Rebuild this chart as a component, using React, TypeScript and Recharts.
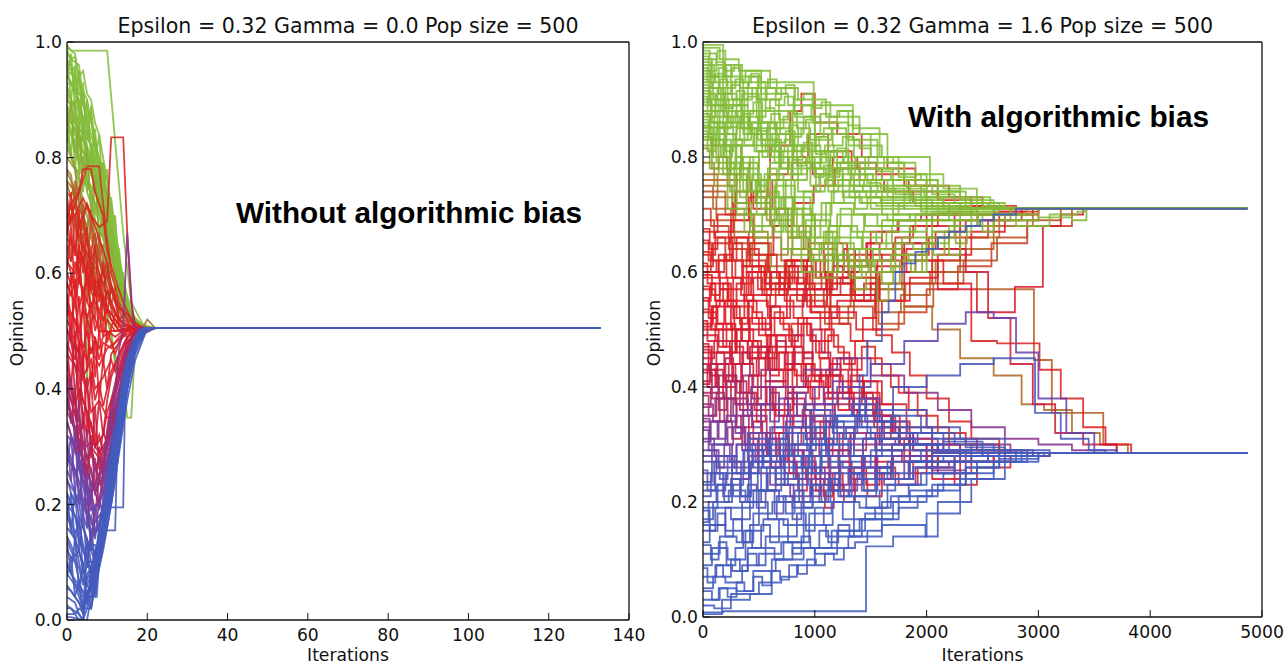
import React from 'react'
import { LineChart, Line, XAxis, YAxis } from 'recharts'

// opinion trajectories, flat [iteration, opinion, iteration, opinion, ...]
const leftEndIter = 133
const rightEndIter = 4870

const leftXTicks = [0, 20, 40, 60, 80, 100, 120, 140]
const rightXTicks = [0, 1000, 2000, 3000, 4000, 5000]
const yTicks = [0, 0.2, 0.4, 0.6, 0.8, 1.0]

const leftGreenRuns: number[][] = [
  [0, 0.995, 1, 0.985, 10, 0.985, 14, 0.67, 16, 0.55, 19, 0.51, 22, 0.505],
  [0, 0.99, 2, 0.98, 3, 0.93, 5, 0.9, 6, 0.86, 8, 0.79, 10, 0.72, 12, 0.62, 14, 0.55, 17, 0.515, 20, 0.505],
  [0, 0.985, 1, 0.97, 2, 0.975, 3, 0.94, 4, 0.95, 5, 0.91, 6, 0.9, 7, 0.86, 8, 0.84, 9, 0.8, 10, 0.76, 11, 0.72, 12, 0.68, 13, 0.63, 14, 0.59, 15, 0.55, 16, 0.53, 18, 0.515, 21, 0.505],
  [0, 0.98, 1, 0.97, 3, 0.96, 4, 0.9, 6, 0.87, 7, 0.82, 9, 0.76, 11, 0.7, 13, 0.6, 15, 0.54, 18, 0.51, 21, 0.505],
  [0, 0.975, 1, 0.9, 2, 0.96, 3, 0.86, 4, 0.93, 5, 0.83, 6, 0.89, 7, 0.79, 8, 0.84, 9, 0.74, 10, 0.78, 11, 0.68, 12, 0.7, 13, 0.6, 14, 0.6, 15, 0.54, 17, 0.52, 20, 0.505],
  [0, 0.97, 2, 0.95, 3, 0.91, 4, 0.91, 5, 0.84, 7, 0.8, 8, 0.74, 10, 0.7, 12, 0.64, 14, 0.56, 16, 0.52, 19, 0.505],
  [0, 0.965, 1, 0.95, 2, 0.93, 3, 0.935, 4, 0.89, 5, 0.87, 6, 0.88, 7, 0.83, 8, 0.8, 9, 0.77, 10, 0.74, 11, 0.69, 12, 0.65, 13, 0.61, 14, 0.57, 15, 0.54, 17, 0.52, 19, 0.51, 22, 0.505],
  [0, 0.96, 1, 0.96, 2, 0.92, 4, 0.9, 6, 0.84, 8, 0.79, 9, 0.79, 10, 0.73, 11, 0.73, 12, 0.67, 14, 0.58, 16, 0.53, 19, 0.505],
  [0, 0.95, 2, 0.94, 3, 0.88, 5, 0.86, 7, 0.78, 9, 0.74, 11, 0.68, 13, 0.62, 15, 0.56, 17, 0.52, 20, 0.505],
  [0, 0.945, 1, 0.93, 2, 0.91, 3, 0.89, 4, 0.9, 5, 0.85, 6, 0.82, 7, 0.8, 8, 0.77, 9, 0.73, 10, 0.7, 11, 0.66, 12, 0.62, 13, 0.58, 15, 0.54, 17, 0.515, 20, 0.505],
  [0, 0.94, 1, 0.93, 3, 0.9, 4, 0.85, 6, 0.82, 7, 0.76, 9, 0.72, 11, 0.66, 12, 0.6, 14, 0.55, 16, 0.52, 19, 0.505],
  [0, 0.935, 1, 0.98, 2, 0.88, 3, 0.95, 4, 0.84, 5, 0.9, 6, 0.8, 7, 0.85, 8, 0.75, 9, 0.79, 10, 0.7, 11, 0.72, 12, 0.63, 13, 0.64, 14, 0.56, 16, 0.53, 19, 0.505],
  [0, 0.93, 2, 0.92, 4, 0.87, 5, 0.8, 7, 0.78, 8, 0.72, 10, 0.68, 12, 0.62, 13, 0.57, 15, 0.53, 18, 0.505],
  [0, 0.925, 1, 0.9, 2, 0.88, 3, 0.86, 4, 0.87, 5, 0.82, 6, 0.8, 7, 0.77, 8, 0.74, 9, 0.71, 10, 0.68, 11, 0.64, 12, 0.6, 14, 0.55, 16, 0.52, 19, 0.505],
  [0, 0.92, 1, 0.9, 3, 0.88, 4, 0.83, 6, 0.79, 8, 0.76, 9, 0.7, 11, 0.66, 13, 0.59, 15, 0.54, 17, 0.515, 20, 0.505],
  [0, 0.91, 2, 0.89, 3, 0.84, 5, 0.82, 6, 0.77, 8, 0.74, 10, 0.69, 11, 0.64, 13, 0.58, 16, 0.53, 18, 0.51, 21, 0.505],
  [0, 0.905, 1, 0.89, 2, 0.86, 3, 0.84, 4, 0.81, 5, 0.79, 6, 0.8, 7, 0.75, 8, 0.72, 9, 0.69, 10, 0.66, 12, 0.61, 13, 0.57, 15, 0.53, 18, 0.51, 21, 0.505],
  [0, 0.9, 1, 0.89, 2, 0.86, 4, 0.84, 5, 0.79, 7, 0.76, 9, 0.71, 11, 0.67, 12, 0.62, 14, 0.57, 16, 0.53, 19, 0.505],
  [0, 0.89, 2, 0.87, 3, 0.82, 5, 0.8, 7, 0.79, 9, 0.79, 10, 0.7, 12, 0.64, 14, 0.56, 17, 0.515, 20, 0.505],
  [0, 0.885, 1, 0.87, 2, 0.84, 3, 0.82, 4, 0.79, 5, 0.76, 6, 0.74, 7, 0.76, 8, 0.7, 9, 0.67, 10, 0.64, 11, 0.6, 13, 0.56, 15, 0.52, 18, 0.505],
  [0, 0.88, 1, 0.86, 3, 0.84, 4, 0.78, 6, 0.75, 7, 0.74, 8, 0.74, 9, 0.68, 11, 0.63, 13, 0.58, 15, 0.54, 18, 0.51, 20, 0.505],
  [0, 0.875, 1, 0.8, 2, 0.9, 3, 0.77, 4, 0.86, 5, 0.74, 6, 0.81, 7, 0.7, 8, 0.76, 9, 0.66, 10, 0.7, 11, 0.62, 12, 0.64, 14, 0.56, 16, 0.52, 19, 0.505],
  [0, 0.87, 2, 0.85, 3, 0.8, 5, 0.78, 6, 0.73, 8, 0.71, 10, 0.66, 12, 0.6, 14, 0.55, 16, 0.52, 19, 0.505],
  [0, 0.865, 1, 0.85, 2, 0.82, 3, 0.79, 4, 0.8, 5, 0.74, 6, 0.72, 7, 0.69, 8, 0.66, 9, 0.63, 10, 0.6, 12, 0.56, 14, 0.53, 17, 0.51, 20, 0.505],
  [0, 0.86, 1, 0.84, 2, 0.81, 4, 0.8, 5, 0.76, 7, 0.72, 8, 0.68, 10, 0.64, 12, 0.58, 14, 0.54, 17, 0.51, 20, 0.505],
  [0, 0.85, 2, 0.83, 3, 0.79, 4, 0.76, 6, 0.74, 7, 0.69, 9, 0.66, 11, 0.6, 13, 0.56, 15, 0.53, 18, 0.505],
  [0, 0.845, 1, 0.8, 3, 0.76, 4, 0.7, 5, 0.41, 6, 0.62, 8, 0.6, 9, 0.55, 11, 0.5, 12, 0.44, 14, 0.41, 15, 0.35, 16, 0.35, 17, 0.48, 19, 0.5, 21, 0.505],
  [0, 0.835, 2, 0.78, 3, 0.72, 5, 0.68, 6, 0.62, 8, 0.57, 10, 0.52, 12, 0.46, 13, 0.43, 14, 0.45, 16, 0.49, 18, 0.5, 20, 0.505],
  [0, 0.825, 1, 0.9, 2, 0.78, 3, 0.86, 4, 0.74, 5, 0.82, 6, 0.7, 7, 0.77, 8, 0.66, 9, 0.71, 10, 0.62, 11, 0.65, 13, 0.56, 15, 0.53, 18, 0.505],
]

const leftRedRuns: number[][] = [
  [0, 0.82, 1, 0.8, 3, 0.77, 4, 0.72, 6, 0.7, 7, 0.64, 9, 0.6, 11, 0.57, 13, 0.54, 15, 0.52, 18, 0.505],
  [0, 0.8, 2, 0.78, 3, 0.73, 5, 0.7, 6, 0.66, 8, 0.63, 10, 0.59, 12, 0.55, 14, 0.53, 17, 0.51, 19, 0.505],
  [0, 0.78, 1, 0.77, 2, 0.72, 4, 0.7, 5, 0.65, 7, 0.62, 9, 0.58, 11, 0.54, 13, 0.52, 16, 0.505],
  [0, 0.775, 1, 0.76, 2, 0.73, 3, 0.75, 4, 0.7, 5, 0.68, 6, 0.71, 7, 0.66, 8, 0.63, 9, 0.65, 10, 0.6, 11, 0.58, 12, 0.56, 14, 0.53, 16, 0.515, 19, 0.505],
  [0, 0.76, 2, 0.74, 3, 0.69, 5, 0.66, 6, 0.62, 8, 0.6, 10, 0.56, 12, 0.53, 14, 0.515, 18, 0.495, 20, 0.52, 22, 0.505],
  [0, 0.755, 1, 0.73, 2, 0.76, 3, 0.72, 4, 0.69, 5, 0.72, 6, 0.68, 7, 0.65, 8, 0.67, 9, 0.62, 10, 0.59, 12, 0.56, 13, 0.54, 15, 0.52, 18, 0.505],
  [0, 0.74, 1, 0.73, 3, 0.7, 4, 0.64, 6, 0.6, 7, 0.57, 9, 0.55, 11, 0.52, 13, 0.5, 15, 0.49, 17, 0.5, 19, 0.505],
  [0, 0.735, 1, 0.68, 2, 0.75, 3, 0.64, 4, 0.72, 5, 0.6, 6, 0.7, 7, 0.58, 8, 0.66, 9, 0.56, 10, 0.62, 11, 0.54, 12, 0.58, 13, 0.52, 15, 0.53, 17, 0.505],
  [0, 0.72, 2, 0.7, 3, 0.66, 5, 0.63, 6, 0.58, 8, 0.56, 10, 0.53, 12, 0.51, 15, 0.5, 18, 0.505],
  [0, 0.715, 1, 0.69, 2, 0.72, 3, 0.68, 4, 0.7, 5, 0.66, 6, 0.64, 7, 0.67, 8, 0.62, 9, 0.6, 10, 0.62, 11, 0.57, 13, 0.54, 15, 0.52, 18, 0.505],
  [0, 0.705, 1, 0.62, 2, 0.7, 3, 0.58, 4, 0.67, 5, 0.55, 6, 0.64, 7, 0.52, 8, 0.6, 9, 0.5, 10, 0.57, 12, 0.51, 14, 0.53, 16, 0.505],
  [0, 0.7, 1, 0.72, 3, 0.74, 5, 0.785, 8, 0.785, 9, 0.72, 10, 0.66, 11, 0.6, 13, 0.55, 15, 0.52, 18, 0.505],
  [0, 0.695, 1, 0.72, 2, 0.69, 3, 0.66, 4, 0.69, 5, 0.65, 6, 0.62, 7, 0.64, 8, 0.6, 9, 0.58, 10, 0.6, 12, 0.55, 14, 0.52, 17, 0.505],
  [0, 0.68, 2, 0.7, 4, 0.73, 6, 0.7, 8, 0.68, 10, 0.69, 11, 0.835, 14, 0.835, 15, 0.67, 16, 0.55, 17, 0.51, 20, 0.505],
  [0, 0.67, 1, 0.7, 3, 0.74, 4, 0.78, 6, 0.78, 7, 0.74, 9, 0.7, 10, 0.64, 12, 0.59, 14, 0.55, 16, 0.52, 19, 0.505],
  [0, 0.665, 1, 0.74, 2, 0.63, 3, 0.71, 4, 0.6, 5, 0.68, 6, 0.57, 7, 0.65, 8, 0.55, 9, 0.62, 10, 0.53, 11, 0.58, 13, 0.52, 15, 0.51, 17, 0.505],
  [0, 0.66, 2, 0.64, 3, 0.68, 5, 0.72, 6, 0.7, 8, 0.66, 10, 0.62, 11, 0.58, 13, 0.54, 15, 0.53, 17, 0.51, 20, 0.505],
  [0, 0.645, 1, 0.62, 2, 0.65, 3, 0.6, 4, 0.63, 5, 0.58, 6, 0.61, 7, 0.56, 8, 0.59, 9, 0.55, 10, 0.57, 12, 0.53, 14, 0.51, 17, 0.505],
  [0, 0.64, 1, 0.66, 3, 0.62, 4, 0.65, 6, 0.62, 7, 0.58, 9, 0.6, 11, 0.55, 13, 0.52, 15, 0.51, 18, 0.505],
  [0, 0.625, 1, 0.6, 2, 0.57, 3, 0.6, 4, 0.56, 5, 0.59, 6, 0.54, 7, 0.57, 8, 0.53, 9, 0.56, 11, 0.52, 13, 0.5, 16, 0.505],
  [0, 0.62, 2, 0.6, 3, 0.64, 5, 0.6, 6, 0.57, 8, 0.58, 9, 0.55, 11, 0.53, 13, 0.51, 16, 0.505],
  [0, 0.605, 1, 0.68, 2, 0.56, 3, 0.65, 4, 0.53, 5, 0.62, 6, 0.5, 7, 0.59, 8, 0.49, 9, 0.56, 10, 0.48, 12, 0.53, 14, 0.5, 16, 0.505],
  [0, 0.6, 1, 0.58, 2, 0.62, 4, 0.57, 5, 0.59, 7, 0.55, 9, 0.52, 10, 0.54, 12, 0.52, 14, 0.5, 17, 0.505],
  [0, 0.585, 1, 0.56, 2, 0.59, 3, 0.54, 4, 0.57, 5, 0.52, 6, 0.55, 7, 0.5, 8, 0.53, 9, 0.49, 10, 0.52, 12, 0.5, 15, 0.505],
  [0, 0.58, 2, 0.55, 3, 0.59, 5, 0.55, 7, 0.52, 8, 0.5, 10, 0.5, 12, 0.49, 14, 0.5, 17, 0.505],
  [0, 0.565, 1, 0.48, 2, 0.58, 3, 0.46, 4, 0.55, 5, 0.43, 6, 0.52, 7, 0.42, 8, 0.5, 9, 0.44, 10, 0.5, 12, 0.46, 14, 0.5, 17, 0.505],
  [0, 0.56, 1, 0.53, 3, 0.5, 4, 0.54, 6, 0.5, 8, 0.47, 9, 0.49, 11, 0.5, 13, 0.5, 16, 0.505],
  [0, 0.545, 1, 0.52, 2, 0.55, 3, 0.5, 4, 0.47, 5, 0.5, 6, 0.46, 7, 0.49, 8, 0.45, 9, 0.48, 11, 0.47, 13, 0.49, 16, 0.505],
  [0, 0.54, 2, 0.52, 3, 0.48, 5, 0.45, 6, 0.47, 8, 0.44, 10, 0.47, 12, 0.48, 14, 0.49, 16, 0.5, 19, 0.505],
  [0, 0.525, 1, 0.6, 2, 0.47, 3, 0.56, 4, 0.44, 5, 0.53, 6, 0.4, 7, 0.49, 8, 0.38, 9, 0.45, 10, 0.4, 11, 0.46, 13, 0.48, 15, 0.5, 18, 0.505],
  [0, 0.52, 1, 0.5, 3, 0.46, 4, 0.42, 6, 0.45, 7, 0.4, 9, 0.42, 11, 0.45, 12, 0.43, 14, 0.47, 16, 0.5, 18, 0.505],
  [0, 0.505, 1, 0.48, 2, 0.45, 3, 0.48, 4, 0.43, 5, 0.4, 6, 0.43, 7, 0.38, 8, 0.41, 9, 0.37, 10, 0.4, 11, 0.43, 13, 0.46, 15, 0.49, 18, 0.505],
  [0, 0.5, 2, 0.47, 3, 0.43, 5, 0.4, 6, 0.36, 8, 0.38, 10, 0.35, 12, 0.35, 14, 0.35, 15, 0.47, 17, 0.5, 19, 0.505],
  [0, 0.48, 1, 0.46, 3, 0.42, 4, 0.38, 6, 0.34, 7, 0.3, 9, 0.32, 10, 0.36, 12, 0.4, 14, 0.45, 16, 0.49, 18, 0.505],
  [0, 0.475, 1, 0.4, 2, 0.5, 3, 0.36, 4, 0.46, 5, 0.32, 6, 0.42, 7, 0.3, 8, 0.38, 9, 0.32, 10, 0.38, 11, 0.42, 13, 0.46, 15, 0.49, 18, 0.505],
  [0, 0.46, 2, 0.44, 3, 0.4, 5, 0.36, 6, 0.3, 8, 0.28, 10, 0.3, 11, 0.34, 13, 0.4, 15, 0.46, 17, 0.49, 20, 0.505],
  [0, 0.455, 1, 0.52, 2, 0.38, 3, 0.47, 4, 0.33, 5, 0.42, 6, 0.28, 7, 0.37, 8, 0.26, 9, 0.33, 10, 0.3, 11, 0.37, 13, 0.43, 15, 0.48, 18, 0.505],
  [0, 0.45, 1, 0.4, 3, 0.35, 4, 0.28, 5, 0.22, 6, 0.12, 7, 0.18, 8, 0.25, 10, 0.3, 12, 0.36, 14, 0.42, 16, 0.47, 18, 0.5, 21, 0.505],
  [0, 0.44, 2, 0.38, 3, 0.3, 5, 0.26, 6, 0.3, 7, 0.27, 9, 0.22, 10, 0.27, 12, 0.33, 13, 0.38, 15, 0.44, 17, 0.48, 19, 0.505],
]

const leftBlueRuns: number[][] = [
  [0, 0.425, 1, 0.4, 2, 0.37, 3, 0.4, 4, 0.35, 5, 0.32, 6, 0.34, 7, 0.3, 8, 0.32, 9, 0.29, 10, 0.32, 11, 0.35, 12, 0.39, 14, 0.44, 16, 0.48, 19, 0.505],
  [0, 0.42, 1, 0.38, 3, 0.33, 4, 0.3, 6, 0.26, 7, 0.22, 9, 0.25, 10, 0.3, 12, 0.35, 14, 0.41, 16, 0.46, 18, 0.49, 21, 0.505],
  [0, 0.415, 1, 0.34, 2, 0.4, 3, 0.28, 4, 0.36, 5, 0.24, 6, 0.32, 7, 0.22, 8, 0.3, 9, 0.26, 10, 0.33, 11, 0.38, 13, 0.44, 15, 0.48, 18, 0.505],
  [0, 0.4, 2, 0.36, 3, 0.31, 5, 0.3, 6, 0.31, 8, 0.29, 9, 0.3, 11, 0.33, 13, 0.38, 15, 0.43, 17, 0.47, 19, 0.495, 22, 0.505],
  [0, 0.385, 1, 0.36, 2, 0.33, 3, 0.35, 4, 0.31, 5, 0.28, 6, 0.3, 7, 0.26, 8, 0.28, 9, 0.25, 10, 0.28, 11, 0.32, 12, 0.36, 14, 0.42, 16, 0.47, 19, 0.505],
  [0, 0.38, 1, 0.35, 3, 0.3, 4, 0.27, 6, 0.24, 8, 0.2, 9, 0.22, 10, 0.21, 12, 0.28, 14, 0.37, 16, 0.44, 18, 0.49, 21, 0.505],
  [0, 0.36, 2, 0.33, 3, 0.28, 5, 0.24, 6, 0.2, 7, 0.17, 9, 0.19, 11, 0.25, 12, 0.3, 14, 0.38, 16, 0.45, 18, 0.49, 20, 0.505],
  [0, 0.355, 1, 0.42, 2, 0.3, 3, 0.38, 4, 0.25, 5, 0.33, 6, 0.2, 7, 0.28, 8, 0.19, 9, 0.26, 10, 0.3, 11, 0.35, 13, 0.42, 15, 0.47, 18, 0.505],
  [0, 0.345, 1, 0.32, 2, 0.29, 3, 0.31, 4, 0.27, 5, 0.24, 6, 0.26, 7, 0.22, 8, 0.24, 9, 0.27, 10, 0.3, 11, 0.34, 13, 0.4, 15, 0.46, 17, 0.49, 20, 0.505],
  [0, 0.34, 1, 0.32, 3, 0.28, 4, 0.24, 6, 0.22, 8, 0.25, 10, 0.32, 12, 0.4, 13, 0.47, 14, 0.5, 15, 0.67, 16.5, 0.51, 18, 0.5, 20, 0.505],
  [0, 0.32, 2, 0.3, 3, 0.26, 5, 0.22, 6, 0.19, 8, 0.2, 9, 0.24, 11, 0.3, 13, 0.38, 15, 0.45, 17, 0.49, 20, 0.505],
  [0, 0.315, 1, 0.24, 2, 0.33, 3, 0.2, 4, 0.28, 5, 0.16, 6, 0.24, 7, 0.14, 8, 0.21, 9, 0.18, 10, 0.25, 11, 0.3, 13, 0.38, 15, 0.45, 17, 0.49, 20, 0.505],
  [0, 0.3, 1, 0.28, 3, 0.24, 4, 0.21, 6, 0.17, 7, 0.15, 9, 0.18, 10, 0.24, 12, 0.33, 14, 0.41, 16, 0.47, 18, 0.5, 21, 0.505],
  [0, 0.295, 1, 0.27, 2, 0.25, 3, 0.27, 4, 0.23, 5, 0.2, 6, 0.22, 7, 0.19, 8, 0.21, 9, 0.24, 10, 0.27, 11, 0.31, 13, 0.38, 15, 0.44, 17, 0.48, 20, 0.505],
  [0, 0.28, 2, 0.26, 3, 0.22, 5, 0.18, 6, 0.14, 8, 0.16, 10, 0.22, 11, 0.28, 13, 0.36, 15, 0.44, 17, 0.49, 20, 0.505],
  [0, 0.265, 1, 0.32, 2, 0.22, 3, 0.29, 4, 0.18, 5, 0.25, 6, 0.13, 7, 0.2, 8, 0.15, 9, 0.21, 10, 0.26, 12, 0.34, 14, 0.42, 16, 0.47, 19, 0.505],
  [0, 0.26, 1, 0.24, 3, 0.2, 4, 0.16, 6, 0.12, 7, 0.1, 8, 0.12, 10, 0.2, 12, 0.3, 14, 0.4, 16, 0.46, 18, 0.5, 21, 0.505],
  [0, 0.245, 1, 0.22, 2, 0.2, 3, 0.22, 4, 0.18, 5, 0.16, 6, 0.18, 7, 0.15, 8, 0.17, 9, 0.2, 10, 0.23, 11, 0.27, 13, 0.35, 15, 0.42, 17, 0.47, 20, 0.505],
  [0, 0.24, 2, 0.22, 3, 0.18, 5, 0.14, 6, 0.1, 7, 0.09, 9, 0.15, 10, 0.2, 11, 0.26, 13, 0.34, 15, 0.43, 17, 0.48, 19, 0.505],
  [0, 0.22, 1, 0.2, 3, 0.16, 4, 0.12, 6, 0.09, 7, 0.12, 8, 0.1, 10, 0.16, 12, 0.24, 13, 0.3, 15, 0.4, 17, 0.47, 19, 0.5, 22, 0.505],
  [0, 0.215, 1, 0.15, 2, 0.23, 3, 0.12, 4, 0.19, 5, 0.09, 6, 0.16, 7, 0.1, 8, 0.16, 9, 0.2, 10, 0.25, 12, 0.33, 14, 0.41, 16, 0.47, 19, 0.505],
  [0, 0.2, 2, 0.18, 3, 0.14, 5, 0.1, 6, 0.08, 8, 0.1, 9, 0.14, 11, 0.22, 12, 0.28, 14, 0.36, 16, 0.44, 18, 0.49, 21, 0.505],
  [0, 0.195, 1, 0.17, 2, 0.15, 3, 0.17, 4, 0.13, 5, 0.11, 6, 0.13, 7, 0.11, 8, 0.14, 9, 0.17, 10, 0.21, 11, 0.25, 13, 0.33, 15, 0.41, 17, 0.47, 20, 0.505],
  [0, 0.18, 1, 0.16, 3, 0.12, 4, 0.09, 5, 0.06, 7, 0.1, 8, 0.155, 12, 0.155, 12.5, 0.3, 14, 0.38, 16, 0.45, 18, 0.5, 20, 0.505],
  [0, 0.175, 1, 0.22, 2, 0.13, 3, 0.18, 4, 0.08, 5, 0.14, 6, 0.06, 7, 0.12, 8, 0.1, 9, 0.16, 10, 0.22, 12, 0.3, 14, 0.4, 16, 0.46, 19, 0.505],
  [0, 0.16, 2, 0.14, 3, 0.1, 4, 0.07, 6, 0.05, 7, 0.09, 9, 0.13, 10, 0.195, 14, 0.195, 14.5, 0.4, 16, 0.46, 18, 0.5, 21, 0.505],
  [0, 0.145, 1, 0.13, 2, 0.11, 3, 0.12, 4, 0.09, 5, 0.07, 6, 0.09, 7, 0.08, 8, 0.11, 9, 0.14, 10, 0.18, 11, 0.22, 13, 0.31, 15, 0.4, 17, 0.46, 20, 0.505],
  [0, 0.14, 1, 0.12, 3, 0.09, 4, 0.06, 5, 0.1, 7, 0.1, 8, 0.1, 10, 0.2, 11, 0.28, 13, 0.35, 15, 0.43, 17, 0.48, 19, 0.505],
  [0, 0.135, 1, 0.08, 2, 0.14, 3, 0.05, 4, 0.1, 5, 0.03, 6, 0.08, 7, 0.04, 8, 0.1, 9, 0.14, 10, 0.2, 12, 0.29, 14, 0.38, 16, 0.45, 19, 0.505],
  [0, 0.12, 2, 0.1, 3, 0.07, 4, 0.04, 6, 0.04, 7, 0.09, 9, 0.17, 10, 0.21, 12, 0.3, 14, 0.39, 16, 0.46, 18, 0.5, 21, 0.505],
  [0, 0.1, 1, 0.08, 3, 0.05, 4, 0.03, 5, 0.03, 6, 0.08, 8, 0.12, 10, 0.22, 12, 0.32, 14, 0.42, 16, 0.47, 19, 0.505],
  [0, 0.095, 1, 0.08, 2, 0.07, 3, 0.06, 4, 0.05, 5, 0.04, 6, 0.06, 7, 0.05, 8, 0.09, 9, 0.12, 10, 0.16, 11, 0.2, 13, 0.29, 15, 0.38, 17, 0.45, 20, 0.505],
  [0, 0.08, 2, 0.06, 3, 0.04, 4, 0.02, 6, 0.02, 7, 0.06, 9, 0.14, 10, 0.18, 12, 0.26, 13, 0.33, 15, 0.42, 17, 0.48, 20, 0.505],
  [0, 0.075, 1, 0.11, 2, 0.04, 3, 0.07, 4, 0.01, 5, 0.05, 6, 0.02, 7, 0.07, 8, 0.12, 9, 0.16, 10, 0.21, 12, 0.3, 14, 0.39, 16, 0.46, 19, 0.505],
  [0, 0.06, 1, 0.05, 3, 0.03, 4, 0.01, 5, 0.13, 7, 0.13, 8, 0.1, 9, 0.15, 11, 0.22, 13, 0.3, 15, 0.4, 17, 0.47, 19, 0.5, 22, 0.505],
  [0, 0.055, 1, 0.05, 2, 0.04, 3, 0.03, 4, 0.02, 5, 0.03, 6, 0.02, 7, 0.06, 8, 0.09, 9, 0.13, 10, 0.18, 12, 0.26, 14, 0.36, 16, 0.44, 18, 0.49, 21, 0.505],
  [0, 0.04, 2, 0.03, 3, 0.01, 4, 0.0, 5, 0.02, 6, 0.06, 8, 0.12, 10, 0.2, 12, 0.28, 14, 0.37, 16, 0.45, 18, 0.49, 21, 0.505],
  [0, 0.025, 1, 0.02, 2, 0.015, 3, 0.01, 4, 0.0, 5, 0.0, 6, 0.04, 7, 0.07, 8, 0.11, 9, 0.15, 10, 0.19, 12, 0.27, 14, 0.37, 16, 0.45, 18, 0.49, 21, 0.505],
  [0, 0.02, 1, 0.02, 3, 0.0, 4, 0.0, 5, 0.05, 7, 0.07, 8, 0.15, 10, 0.22, 11, 0.26, 13, 0.32, 15, 0.41, 17, 0.47, 19, 0.5, 22, 0.505],
  [0, 0.01, 2, 0.01, 3, 0.02, 4, 0.015, 4.5, 0.04, 7.4, 0.04, 8, 0.1, 9, 0.16, 11, 0.26, 13, 0.34, 15, 0.42, 17, 0.47, 20, 0.505],
  [0, 0.005, 1, 0.005, 4, 0.0, 5, 0.08, 6, 0.09, 7, 0.1, 8, 0.145, 9, 0.15, 10, 0.19, 11, 0.2, 13, 0.36, 15, 0.45, 17, 0.49, 20, 0.505],
]

const rightGreenRuns: number[][] = [
  [0, 0.995, 180, 0.94, 520, 0.93, 990, 0.89, 1340, 0.85, 1580, 0.8, 2030, 0.75, 2300, 0.73, 2570, 0.712, 2800, 0.71],
  [0, 0.99, 150, 0.97, 320, 0.95, 600, 0.92, 850, 0.9, 1100, 0.87, 1400, 0.84, 1650, 0.79, 1900, 0.77, 2150, 0.745, 2450, 0.72, 2700, 0.71],
  [0, 0.985, 60, 0.97, 130, 0.985, 200, 0.95, 280, 0.96, 350, 0.93, 430, 0.945, 500, 0.92, 580, 0.935, 660, 0.91, 740, 0.925, 820, 0.9, 900, 0.91, 980, 0.885, 1060, 0.895, 1140, 0.87, 1220, 0.88, 1300, 0.855, 1400, 0.84, 1500, 0.82, 1600, 0.8, 1700, 0.79, 1800, 0.77, 1950, 0.76, 2100, 0.74, 2300, 0.725, 2500, 0.715, 2700, 0.71],
  [0, 0.98, 120, 0.96, 250, 0.93, 380, 0.95, 520, 0.91, 760, 0.89, 990, 0.86, 1200, 0.88, 1340, 0.83, 1560, 0.79, 1800, 0.76, 2100, 0.74, 2350, 0.72, 2650, 0.71],
  [0, 0.975, 50, 0.95, 120, 0.965, 190, 0.94, 260, 0.955, 330, 0.92, 410, 0.94, 490, 0.9, 570, 0.92, 650, 0.89, 730, 0.905, 810, 0.875, 890, 0.89, 970, 0.86, 1050, 0.875, 1130, 0.85, 1210, 0.86, 1300, 0.83, 1400, 0.815, 1500, 0.8, 1620, 0.78, 1750, 0.765, 1900, 0.75, 2050, 0.735, 2250, 0.72, 2450, 0.71],
  [0, 0.97, 80, 0.94, 200, 0.96, 330, 0.92, 480, 0.9, 700, 0.92, 820, 0.87, 1050, 0.84, 1300, 0.82, 1500, 0.8, 1750, 0.77, 2000, 0.74, 2300, 0.725, 2600, 0.71],
  [0, 0.965, 70, 0.94, 140, 0.955, 210, 0.92, 290, 0.935, 360, 0.9, 440, 0.92, 520, 0.88, 600, 0.9, 680, 0.865, 760, 0.88, 840, 0.85, 920, 0.865, 1000, 0.835, 1080, 0.85, 1160, 0.82, 1250, 0.835, 1350, 0.8, 1450, 0.79, 1560, 0.775, 1680, 0.76, 1820, 0.745, 1980, 0.73, 2150, 0.72, 2350, 0.71],
  [0, 0.96, 100, 0.93, 260, 0.9, 400, 0.93, 560, 0.88, 800, 0.86, 950, 0.83, 1150, 0.85, 1280, 0.8, 1480, 0.78, 1700, 0.75, 1950, 0.73, 2250, 0.72, 2500, 0.71],
  [0, 0.955, 40, 0.93, 110, 0.945, 180, 0.91, 250, 0.925, 330, 0.89, 400, 0.905, 480, 0.87, 560, 0.885, 640, 0.85, 720, 0.87, 800, 0.835, 880, 0.85, 960, 0.82, 1040, 0.835, 1120, 0.8, 1200, 0.815, 1300, 0.785, 1400, 0.77, 1520, 0.76, 1650, 0.745, 1800, 0.735, 1950, 0.725, 2150, 0.715, 2400, 0.71],
  [0, 0.95, 60, 0.92, 180, 0.89, 350, 0.91, 500, 0.86, 650, 0.84, 900, 0.87, 1000, 0.81, 1250, 0.79, 1450, 0.76, 1700, 0.74, 2000, 0.72, 2400, 0.71],
  [0, 0.945, 80, 0.92, 150, 0.935, 220, 0.9, 300, 0.915, 370, 0.875, 450, 0.895, 530, 0.86, 610, 0.875, 690, 0.84, 770, 0.855, 850, 0.82, 930, 0.84, 1010, 0.805, 1090, 0.82, 1170, 0.79, 1260, 0.8, 1360, 0.77, 1470, 0.755, 1590, 0.745, 1720, 0.735, 1870, 0.725, 2050, 0.715, 2300, 0.71],
  [0, 0.94, 140, 0.91, 300, 0.87, 420, 0.84, 600, 0.86, 780, 0.82, 950, 0.79, 1100, 0.81, 1300, 0.77, 1550, 0.75, 1850, 0.73, 2150, 0.72, 2550, 0.71],
  [0, 0.935, 60, 0.9, 130, 0.92, 200, 0.885, 270, 0.9, 350, 0.86, 420, 0.88, 500, 0.845, 580, 0.86, 660, 0.825, 740, 0.845, 820, 0.81, 900, 0.825, 980, 0.79, 1060, 0.81, 1140, 0.775, 1230, 0.79, 1330, 0.76, 1440, 0.75, 1560, 0.74, 1700, 0.73, 1850, 0.72, 2050, 0.71],
  [0, 0.93, 90, 0.9, 230, 0.86, 370, 0.88, 520, 0.83, 700, 0.8, 880, 0.82, 1050, 0.78, 1250, 0.76, 1500, 0.74, 1800, 0.72, 2200, 0.71],
  [0, 0.925, 50, 0.89, 120, 0.91, 190, 0.87, 260, 0.89, 340, 0.85, 410, 0.87, 490, 0.83, 570, 0.85, 650, 0.81, 730, 0.83, 810, 0.795, 890, 0.815, 970, 0.78, 1050, 0.8, 1130, 0.765, 1220, 0.78, 1320, 0.75, 1430, 0.74, 1550, 0.73, 1700, 0.72, 1900, 0.715, 2150, 0.71],
  [0, 0.92, 160, 0.88, 310, 0.85, 460, 0.81, 620, 0.84, 800, 0.79, 1000, 0.77, 1200, 0.79, 1400, 0.75, 1650, 0.73, 2000, 0.715, 2350, 0.71],
  [0, 0.915, 70, 0.88, 140, 0.9, 210, 0.86, 290, 0.88, 360, 0.84, 440, 0.86, 520, 0.82, 600, 0.84, 680, 0.8, 760, 0.82, 840, 0.785, 920, 0.8, 1000, 0.765, 1080, 0.785, 1160, 0.75, 1250, 0.77, 1350, 0.74, 1460, 0.73, 1590, 0.72, 1750, 0.715, 2000, 0.71],
  [0, 0.91, 110, 0.87, 270, 0.83, 430, 0.86, 580, 0.8, 760, 0.77, 930, 0.8, 1120, 0.76, 1350, 0.74, 1600, 0.725, 1950, 0.71],
  [0, 0.905, 40, 0.87, 110, 0.89, 180, 0.85, 250, 0.87, 330, 0.83, 400, 0.85, 480, 0.81, 560, 0.83, 640, 0.79, 720, 0.81, 800, 0.77, 880, 0.79, 960, 0.75, 1040, 0.77, 1120, 0.74, 1210, 0.76, 1310, 0.73, 1420, 0.72, 1550, 0.715, 1800, 0.71],
  [0, 0.9, 70, 0.86, 200, 0.82, 340, 0.78, 500, 0.81, 680, 0.76, 850, 0.74, 1050, 0.77, 1250, 0.73, 1500, 0.71, 1800, 0.72, 2100, 0.705, 2400, 0.71],
  [0, 0.895, 80, 0.86, 150, 0.88, 220, 0.84, 300, 0.86, 370, 0.82, 450, 0.84, 530, 0.8, 610, 0.82, 690, 0.78, 770, 0.8, 850, 0.76, 930, 0.78, 1010, 0.74, 1090, 0.76, 1170, 0.72, 1260, 0.74, 1360, 0.71, 1470, 0.73, 1600, 0.7, 1750, 0.72, 1950, 0.705, 2200, 0.71],
  [0, 0.89, 400, 0.85, 800, 0.81, 1200, 0.78, 1600, 0.76, 2000, 0.73, 2400, 0.71, 2800, 0.68, 3100, 0.7, 3350, 0.705, 3420, 0.71],
  [0, 0.88, 130, 0.84, 290, 0.8, 450, 0.76, 600, 0.79, 790, 0.73, 960, 0.7, 1150, 0.74, 1400, 0.72, 1700, 0.7, 2000, 0.715, 2300, 0.71],
  [0, 0.875, 60, 0.84, 130, 0.86, 200, 0.81, 270, 0.83, 350, 0.78, 420, 0.8, 500, 0.75, 580, 0.78, 660, 0.73, 740, 0.76, 820, 0.71, 900, 0.74, 980, 0.69, 1060, 0.72, 1140, 0.68, 1230, 0.71, 1330, 0.67, 1440, 0.7, 1560, 0.68, 1700, 0.7, 1850, 0.69, 2050, 0.705, 2300, 0.71],
  [0, 0.87, 100, 0.83, 250, 0.78, 400, 0.74, 550, 0.77, 720, 0.71, 900, 0.68, 1100, 0.72, 1350, 0.7, 1650, 0.69, 1900, 0.7, 2200, 0.705, 2450, 0.71],
  [0, 0.865, 50, 0.83, 120, 0.85, 190, 0.8, 260, 0.82, 340, 0.76, 410, 0.79, 490, 0.73, 570, 0.76, 650, 0.7, 730, 0.73, 810, 0.68, 890, 0.71, 970, 0.66, 1050, 0.69, 1130, 0.65, 1220, 0.68, 1320, 0.64, 1430, 0.67, 1550, 0.65, 1690, 0.68, 1850, 0.67, 2000, 0.69, 2200, 0.7, 2450, 0.71],
  [0, 0.86, 150, 0.82, 300, 0.76, 470, 0.72, 640, 0.75, 820, 0.7, 1000, 0.66, 1200, 0.7, 1450, 0.68, 1750, 0.69, 2050, 0.7, 2450, 0.71],
  [0, 0.855, 70, 0.82, 140, 0.84, 210, 0.78, 290, 0.8, 360, 0.74, 440, 0.77, 520, 0.71, 600, 0.74, 680, 0.68, 760, 0.71, 840, 0.66, 920, 0.69, 1000, 0.64, 1080, 0.67, 1160, 0.62, 1250, 0.65, 1350, 0.61, 1460, 0.64, 1580, 0.62, 1720, 0.65, 1880, 0.64, 2050, 0.67, 2250, 0.69, 2500, 0.7, 2750, 0.71],
  [0, 0.852, 300, 0.82, 700, 0.78, 1100, 0.75, 1500, 0.73, 1900, 0.72, 2300, 0.7, 2700, 0.69, 3000, 0.695, 3300, 0.69, 3430, 0.71],
  [0, 0.85, 90, 0.8, 240, 0.74, 390, 0.7, 560, 0.73, 740, 0.67, 920, 0.64, 1120, 0.68, 1380, 0.66, 1600, 0.69, 1850, 0.7, 2200, 0.705, 2600, 0.71],
  [0, 0.845, 40, 0.81, 110, 0.83, 180, 0.77, 250, 0.79, 330, 0.73, 400, 0.76, 480, 0.7, 560, 0.73, 640, 0.67, 720, 0.7, 800, 0.64, 880, 0.67, 960, 0.62, 1040, 0.65, 1120, 0.6, 1210, 0.63, 1310, 0.59, 1420, 0.62, 1540, 0.6, 1680, 0.63, 1840, 0.62, 2000, 0.65, 2200, 0.68, 2450, 0.7, 2800, 0.71],
  [0, 0.84, 120, 0.79, 280, 0.72, 430, 0.68, 610, 0.71, 790, 0.66, 960, 0.62, 1180, 0.66, 1420, 0.64, 1640, 0.67, 1900, 0.69, 2300, 0.705, 2650, 0.71],
  [0, 0.835, 80, 0.8, 160, 0.82, 240, 0.77, 330, 0.79, 420, 0.74, 510, 0.76, 600, 0.71, 700, 0.73, 800, 0.68, 900, 0.7, 1000, 0.65, 1100, 0.67, 1200, 0.62, 1300, 0.64, 1400, 0.6, 1500, 0.62, 1600, 0.58, 1700, 0.61, 1800, 0.63, 1900, 0.6, 2000, 0.64, 2100, 0.66, 2200, 0.63, 2300, 0.67, 2400, 0.69, 2500, 0.67, 2600, 0.7, 2750, 0.71],
  [0, 0.83, 80, 0.78, 220, 0.71, 370, 0.67, 530, 0.7, 700, 0.64, 880, 0.6, 1080, 0.63, 1300, 0.61, 1520, 0.64, 1780, 0.66, 2050, 0.69, 2400, 0.7, 2900, 0.71],
  [0, 0.82, 140, 0.77, 300, 0.7, 460, 0.66, 620, 0.69, 800, 0.63, 990, 0.59, 1200, 0.62, 1480, 0.6, 1720, 0.63, 2000, 0.66, 2250, 0.68, 2600, 0.7, 3000, 0.71],
  [0, 0.815, 60, 0.78, 140, 0.8, 220, 0.75, 300, 0.77, 390, 0.72, 480, 0.74, 570, 0.69, 660, 0.71, 760, 0.66, 860, 0.68, 960, 0.63, 1060, 0.65, 1160, 0.6, 1260, 0.62, 1360, 0.57, 1460, 0.6, 1560, 0.55, 1660, 0.58, 1760, 0.62, 1860, 0.6, 1960, 0.65, 2060, 0.63, 2160, 0.67, 2260, 0.65, 2360, 0.68, 2460, 0.7, 2600, 0.69, 2750, 0.71],
]

const rightMidRuns: number[][] = [
  [0, 0.79, 100, 0.75, 260, 0.71, 420, 0.67, 580, 0.63, 760, 0.66, 940, 0.62, 1120, 0.58, 1330, 0.61, 1550, 0.57, 1780, 0.6, 2050, 0.64, 2300, 0.68, 2600, 0.7, 2950, 0.71],
  [0, 0.77, 130, 0.73, 290, 0.69, 450, 0.65, 610, 0.61, 790, 0.64, 970, 0.6, 1150, 0.56, 1360, 0.59, 1580, 0.55, 1810, 0.58, 2080, 0.62, 2350, 0.66, 2650, 0.69, 3000, 0.71],
  [0, 0.76, 300, 0.72, 600, 0.68, 900, 0.64, 1200, 0.6, 1500, 0.57, 1800, 0.54, 2050, 0.5, 2300, 0.45, 2600, 0.42, 2850, 0.37, 3050, 0.36, 3300, 0.32, 3550, 0.3, 3800, 0.285],
  [0, 0.75, 90, 0.71, 250, 0.67, 410, 0.63, 570, 0.59, 750, 0.62, 930, 0.58, 1110, 0.54, 1320, 0.57, 1540, 0.53, 1770, 0.56, 2030, 0.6, 2300, 0.64, 2600, 0.68, 2950, 0.71],
  [0, 0.74, 200, 0.7, 450, 0.66, 700, 0.62, 950, 0.65, 1200, 0.61, 1500, 0.64, 1800, 0.62, 2100, 0.6, 2450, 0.57, 2960, 0.447, 3120, 0.355, 3580, 0.3, 3700, 0.285],
  [0, 0.73, 120, 0.69, 280, 0.65, 440, 0.61, 600, 0.57, 780, 0.6, 960, 0.56, 1140, 0.52, 1350, 0.55, 1570, 0.51, 1800, 0.54, 2060, 0.58, 2330, 0.62, 2630, 0.66, 2900, 0.69, 3200, 0.71],
  [0, 0.71, 70, 0.68, 230, 0.64, 390, 0.6, 550, 0.56, 730, 0.59, 910, 0.55, 1090, 0.51, 1300, 0.54, 1520, 0.5, 1750, 0.53, 2000, 0.57, 2280, 0.61, 2580, 0.65, 2900, 0.68, 3300, 0.71],
  [0, 0.69, 100, 0.66, 260, 0.62, 420, 0.65, 590, 0.6, 770, 0.57, 950, 0.6, 1130, 0.56, 1350, 0.59, 1570, 0.55, 1800, 0.58, 2050, 0.62, 2300, 0.66, 2550, 0.69, 2850, 0.71],
  [0, 0.675, 60, 0.64, 130, 0.66, 200, 0.62, 270, 0.65, 350, 0.61, 420, 0.64, 500, 0.6, 580, 0.63, 660, 0.59, 740, 0.62, 820, 0.58, 900, 0.61, 980, 0.57, 1060, 0.6, 1140, 0.56, 1230, 0.59, 1330, 0.55, 1440, 0.58, 1560, 0.62, 1700, 0.65, 1850, 0.68, 2050, 0.7, 2300, 0.71],
  [0, 0.67, 130, 0.7, 290, 0.74, 450, 0.71, 620, 0.76, 800, 0.79, 980, 0.77, 1160, 0.8, 1380, 0.78, 1600, 0.76, 1840, 0.74, 2100, 0.725, 2400, 0.71],
  [0, 0.655, 50, 0.62, 120, 0.6, 190, 0.63, 260, 0.59, 340, 0.56, 410, 0.6, 490, 0.57, 570, 0.54, 650, 0.58, 730, 0.55, 810, 0.52, 890, 0.56, 970, 0.53, 1050, 0.5, 1130, 0.54, 1220, 0.51, 1320, 0.48, 1430, 0.52, 1550, 0.49, 1690, 0.46, 1850, 0.42, 2000, 0.38, 2200, 0.34, 2400, 0.31, 2650, 0.29, 2900, 0.285],
  [0, 0.65, 80, 0.62, 240, 0.66, 400, 0.62, 560, 0.58, 740, 0.61, 920, 0.57, 1100, 0.6, 1320, 0.56, 1540, 0.52, 1550, 0.6, 1780, 0.63, 2020, 0.66, 2300, 0.69, 2600, 0.71],
  [0, 0.635, 70, 0.6, 140, 0.63, 210, 0.59, 290, 0.62, 360, 0.58, 440, 0.61, 520, 0.57, 600, 0.6, 680, 0.56, 760, 0.59, 840, 0.55, 920, 0.58, 1000, 0.54, 1080, 0.57, 1160, 0.61, 1250, 0.58, 1350, 0.62, 1460, 0.65, 1580, 0.63, 1720, 0.66, 1880, 0.68, 2100, 0.7, 2400, 0.71],
  [0, 0.63, 110, 0.67, 270, 0.72, 430, 0.76, 600, 0.82, 780, 0.88, 880, 0.91, 1000, 0.86, 1200, 0.84, 1420, 0.8, 1650, 0.78, 1900, 0.75, 2200, 0.73, 2500, 0.715, 2800, 0.71],
  [0, 0.615, 40, 0.58, 110, 0.55, 180, 0.58, 250, 0.54, 330, 0.51, 400, 0.55, 480, 0.52, 560, 0.49, 640, 0.53, 720, 0.5, 800, 0.47, 880, 0.51, 960, 0.48, 1040, 0.45, 1120, 0.49, 1210, 0.46, 1310, 0.43, 1420, 0.47, 1540, 0.44, 1680, 0.4, 1840, 0.36, 2000, 0.33, 2200, 0.3, 2450, 0.29, 2750, 0.285],
  [0, 0.61, 90, 0.65, 250, 0.69, 410, 0.73, 580, 0.77, 760, 0.8, 940, 0.84, 1120, 0.81, 1330, 0.79, 1550, 0.77, 1800, 0.75, 2100, 0.73, 2400, 0.715, 2700, 0.71],
  [0, 0.6, 150, 0.57, 350, 0.61, 550, 0.58, 800, 0.62, 1050, 0.59, 1300, 0.63, 1600, 0.6, 1900, 0.62, 2150, 0.58, 2400, 0.48, 2630, 0.476, 3010, 0.43, 3200, 0.38, 3400, 0.33, 3600, 0.3, 3830, 0.285],
  [0, 0.595, 80, 0.56, 150, 0.59, 220, 0.55, 300, 0.52, 370, 0.56, 450, 0.53, 530, 0.5, 610, 0.54, 690, 0.51, 770, 0.48, 850, 0.52, 930, 0.49, 1010, 0.46, 1090, 0.5, 1170, 0.47, 1260, 0.44, 1360, 0.48, 1470, 0.45, 1600, 0.42, 1750, 0.39, 1920, 0.35, 2100, 0.32, 2350, 0.3, 2650, 0.285],
  [0, 0.59, 140, 0.62, 300, 0.66, 460, 0.63, 630, 0.68, 810, 0.72, 990, 0.75, 1180, 0.78, 1400, 0.76, 1620, 0.74, 1880, 0.72, 2150, 0.715, 2500, 0.71],
  [0, 0.575, 60, 0.54, 130, 0.51, 200, 0.55, 270, 0.52, 350, 0.48, 420, 0.52, 500, 0.49, 580, 0.45, 660, 0.49, 740, 0.46, 820, 0.42, 900, 0.46, 980, 0.43, 1060, 0.4, 1140, 0.44, 1230, 0.41, 1330, 0.38, 1440, 0.41, 1560, 0.37, 1700, 0.34, 1850, 0.31, 2050, 0.29, 2300, 0.285],
  [0, 0.57, 110, 0.55, 270, 0.59, 430, 0.56, 600, 0.52, 780, 0.56, 960, 0.53, 1140, 0.58, 1360, 0.55, 1580, 0.6, 1820, 0.64, 2080, 0.67, 2350, 0.69, 2650, 0.705, 3000, 0.71],
  [0, 0.555, 50, 0.52, 120, 0.55, 190, 0.51, 260, 0.48, 340, 0.52, 410, 0.48, 490, 0.45, 570, 0.49, 650, 0.46, 730, 0.43, 810, 0.47, 890, 0.44, 970, 0.41, 1050, 0.45, 1130, 0.42, 1220, 0.39, 1320, 0.42, 1430, 0.38, 1550, 0.35, 1690, 0.32, 1850, 0.3, 2050, 0.29, 2300, 0.285],
  [0, 0.55, 70, 0.58, 230, 0.55, 390, 0.6, 560, 0.57, 730, 0.62, 900, 0.6, 1080, 0.65, 1290, 0.62, 1500, 0.67, 1740, 0.69, 2000, 0.7, 2300, 0.71],
  [0, 0.535, 70, 0.5, 140, 0.47, 210, 0.51, 290, 0.47, 360, 0.44, 440, 0.48, 520, 0.45, 600, 0.42, 680, 0.46, 760, 0.43, 840, 0.4, 920, 0.44, 1000, 0.41, 1080, 0.38, 1160, 0.42, 1250, 0.39, 1350, 0.36, 1460, 0.39, 1580, 0.35, 1720, 0.32, 1880, 0.3, 2100, 0.285],
  [0, 0.53, 120, 0.5, 280, 0.54, 440, 0.51, 610, 0.47, 790, 0.51, 970, 0.48, 1150, 0.53, 1370, 0.5, 1600, 0.55, 1850, 0.59, 2100, 0.63, 2400, 0.67, 2700, 0.7, 3000, 0.71],
  [0, 0.515, 40, 0.48, 110, 0.51, 180, 0.47, 250, 0.44, 330, 0.48, 400, 0.45, 480, 0.42, 560, 0.46, 640, 0.43, 720, 0.4, 800, 0.44, 880, 0.41, 960, 0.38, 1040, 0.42, 1120, 0.39, 1210, 0.36, 1310, 0.4, 1420, 0.37, 1540, 0.34, 1680, 0.31, 1840, 0.3, 2050, 0.285],
  [0, 0.51, 90, 0.54, 250, 0.5, 410, 0.55, 580, 0.52, 750, 0.57, 930, 0.54, 1110, 0.59, 1330, 0.56, 1550, 0.61, 1780, 0.65, 2000, 0.68, 2250, 0.7, 2600, 0.705, 2900, 0.71],
  [0, 0.505, 80, 0.54, 150, 0.57, 220, 0.54, 300, 0.58, 370, 0.55, 450, 0.59, 530, 0.56, 610, 0.6, 690, 0.57, 770, 0.61, 850, 0.58, 930, 0.62, 1010, 0.59, 1090, 0.63, 1170, 0.6, 1260, 0.64, 1360, 0.61, 1470, 0.65, 1600, 0.67, 1750, 0.69, 1950, 0.7, 2200, 0.71],
  [0, 0.5, 300, 0.46, 600, 0.49, 900, 0.52, 1200, 0.55, 1500, 0.58, 1800, 0.6, 2100, 0.57, 2450, 0.53, 2790, 0.574, 3040, 0.68, 3200, 0.7, 3400, 0.71],
  [0, 0.49, 130, 0.46, 290, 0.5, 450, 0.47, 620, 0.43, 800, 0.46, 980, 0.42, 1160, 0.45, 1380, 0.41, 1600, 0.37, 1820, 0.33, 2050, 0.3, 2300, 0.27, 2600, 0.28, 2900, 0.285],
  [0, 0.475, 50, 0.43, 120, 0.46, 190, 0.41, 260, 0.44, 340, 0.39, 410, 0.42, 490, 0.37, 570, 0.4, 650, 0.35, 730, 0.38, 810, 0.33, 890, 0.36, 970, 0.31, 1050, 0.34, 1130, 0.29, 1220, 0.32, 1320, 0.28, 1430, 0.31, 1550, 0.27, 1690, 0.3, 1850, 0.28, 2050, 0.29, 2300, 0.285],
  [0, 0.47, 80, 0.44, 240, 0.48, 400, 0.45, 560, 0.41, 740, 0.44, 920, 0.4, 1100, 0.43, 1300, 0.39, 1520, 0.35, 1760, 0.3, 2000, 0.26, 2250, 0.23, 2450, 0.26, 2750, 0.28, 3100, 0.285],
  [0, 0.465, 70, 0.42, 140, 0.38, 210, 0.42, 290, 0.37, 360, 0.33, 440, 0.37, 520, 0.32, 600, 0.28, 680, 0.32, 760, 0.27, 840, 0.24, 920, 0.28, 1000, 0.24, 1080, 0.21, 1160, 0.25, 1250, 0.22, 1350, 0.26, 1460, 0.23, 1580, 0.26, 1720, 0.24, 1880, 0.27, 2100, 0.28, 2400, 0.285],
  [0, 0.46, 300, 0.5, 600, 0.54, 900, 0.57, 1200, 0.6, 1500, 0.62, 1800, 0.65, 2100, 0.64, 2350, 0.6, 2550, 0.52, 2750, 0.44, 2950, 0.37, 3150, 0.32, 3400, 0.3, 3700, 0.285],
  [0, 0.45, 100, 0.48, 260, 0.44, 420, 0.47, 590, 0.43, 760, 0.39, 940, 0.42, 1120, 0.38, 1340, 0.35, 1560, 0.31, 1800, 0.27, 2050, 0.24, 2300, 0.27, 2600, 0.28, 2950, 0.285],
  [0, 0.44, 40, 0.4, 110, 0.43, 180, 0.38, 250, 0.41, 330, 0.36, 400, 0.39, 480, 0.34, 560, 0.37, 640, 0.32, 720, 0.35, 800, 0.3, 880, 0.33, 960, 0.28, 1040, 0.31, 1120, 0.26, 1210, 0.29, 1310, 0.25, 1420, 0.28, 1540, 0.24, 1680, 0.27, 1840, 0.25, 2000, 0.27, 2250, 0.28, 2550, 0.285],
  [0, 0.43, 120, 0.4, 290, 0.44, 450, 0.4, 620, 0.36, 800, 0.4, 980, 0.37, 1160, 0.33, 1380, 0.36, 1600, 0.32, 1850, 0.28, 2100, 0.25, 2400, 0.27, 2750, 0.28, 3100, 0.285],
  [0, 0.425, 80, 0.38, 150, 0.34, 220, 0.38, 300, 0.33, 370, 0.3, 450, 0.34, 530, 0.29, 610, 0.26, 690, 0.3, 770, 0.25, 850, 0.22, 930, 0.26, 1010, 0.22, 1090, 0.19, 1170, 0.23, 1260, 0.2, 1360, 0.24, 1470, 0.21, 1600, 0.25, 1750, 0.23, 1920, 0.26, 2100, 0.27, 2400, 0.28, 2700, 0.285],
  [0, 0.41, 70, 0.44, 230, 0.41, 390, 0.37, 560, 0.41, 740, 0.38, 910, 0.35, 1090, 0.39, 1310, 0.36, 1530, 0.33, 1760, 0.3, 2050, 0.27, 2350, 0.29, 2700, 0.285],
  [0, 0.405, 60, 0.44, 130, 0.4, 200, 0.45, 270, 0.41, 350, 0.46, 420, 0.42, 500, 0.47, 580, 0.43, 660, 0.48, 740, 0.44, 820, 0.49, 900, 0.45, 980, 0.5, 1060, 0.46, 1140, 0.42, 1230, 0.45, 1330, 0.41, 1440, 0.38, 1560, 0.35, 1700, 0.32, 1850, 0.3, 2050, 0.29, 2300, 0.285],
  [0, 0.39, 140, 0.42, 300, 0.39, 460, 0.36, 630, 0.4, 810, 0.37, 990, 0.34, 1180, 0.37, 1400, 0.34, 1620, 0.31, 1880, 0.29, 2150, 0.31, 2450, 0.29, 2800, 0.285],
  [0, 0.385, 50, 0.35, 120, 0.39, 190, 0.34, 260, 0.31, 340, 0.35, 410, 0.31, 490, 0.28, 570, 0.32, 650, 0.28, 730, 0.25, 810, 0.29, 890, 0.25, 970, 0.22, 1050, 0.26, 1130, 0.23, 1220, 0.27, 1320, 0.24, 1430, 0.28, 1550, 0.26, 1690, 0.29, 1850, 0.28, 2050, 0.285],
  [0, 0.37, 90, 0.34, 250, 0.38, 400, 0.35, 570, 0.31, 750, 0.35, 920, 0.32, 1100, 0.29, 1320, 0.32, 1540, 0.29, 1780, 0.27, 2000, 0.3, 2300, 0.28, 2650, 0.285],
  [0, 0.365, 70, 0.4, 140, 0.36, 210, 0.41, 290, 0.37, 360, 0.42, 440, 0.38, 520, 0.43, 600, 0.39, 680, 0.35, 760, 0.39, 840, 0.35, 920, 0.31, 1000, 0.35, 1080, 0.31, 1160, 0.28, 1250, 0.32, 1350, 0.29, 1460, 0.32, 1580, 0.3, 1720, 0.31, 1880, 0.29, 2100, 0.285],
  [0, 0.35, 110, 0.38, 270, 0.35, 430, 0.4, 600, 0.37, 780, 0.33, 960, 0.36, 1140, 0.33, 1350, 0.3, 1580, 0.33, 1820, 0.31, 2100, 0.29, 2400, 0.3, 2750, 0.285],
]

const rightLowRuns: number[][] = [
  [0, 0.345, 60, 0.31, 130, 0.34, 200, 0.3, 270, 0.33, 350, 0.29, 420, 0.32, 500, 0.28, 580, 0.31, 660, 0.27, 740, 0.3, 820, 0.26, 900, 0.29, 980, 0.25, 1060, 0.28, 1140, 0.24, 1230, 0.27, 1330, 0.25, 1440, 0.28, 1560, 0.26, 1700, 0.28, 1850, 0.27, 2050, 0.28, 2300, 0.285],
  [0, 0.34, 300, 0.37, 600, 0.4, 900, 0.43, 1200, 0.45, 1500, 0.42, 1800, 0.39, 2100, 0.36, 2400, 0.33, 2700, 0.31, 3000, 0.3, 3300, 0.29, 3500, 0.285],
  [0, 0.33, 60, 0.3, 220, 0.33, 380, 0.29, 540, 0.26, 720, 0.29, 900, 0.26, 1090, 0.23, 1300, 0.26, 1550, 0.24, 1800, 0.27, 2050, 0.255, 2350, 0.27, 2700, 0.28, 3050, 0.285],
  [0, 0.325, 50, 0.29, 120, 0.26, 190, 0.3, 260, 0.27, 340, 0.24, 410, 0.28, 490, 0.25, 570, 0.22, 650, 0.26, 730, 0.23, 810, 0.2, 890, 0.24, 970, 0.21, 1050, 0.25, 1130, 0.22, 1220, 0.26, 1320, 0.23, 1430, 0.27, 1550, 0.25, 1690, 0.28, 1850, 0.27, 2050, 0.285],
  [0, 0.31, 100, 0.28, 260, 0.24, 420, 0.27, 600, 0.23, 780, 0.21, 960, 0.24, 1150, 0.22, 1380, 0.25, 1620, 0.23, 1900, 0.26, 2200, 0.27, 2550, 0.28, 2900, 0.285],
  [0, 0.305, 70, 0.34, 140, 0.31, 210, 0.35, 290, 0.32, 360, 0.36, 440, 0.33, 520, 0.37, 600, 0.34, 680, 0.38, 760, 0.35, 840, 0.39, 920, 0.36, 1000, 0.4, 1080, 0.37, 1160, 0.41, 1250, 0.38, 1350, 0.35, 1460, 0.38, 1580, 0.34, 1720, 0.32, 1880, 0.3, 2100, 0.29, 2400, 0.285],
  [0, 0.29, 140, 0.26, 300, 0.3, 470, 0.27, 650, 0.24, 830, 0.27, 1010, 0.25, 1220, 0.28, 1450, 0.26, 1700, 0.28, 2000, 0.27, 2300, 0.28, 2650, 0.285],
  [0, 0.28, 300, 0.3, 600, 0.33, 900, 0.37, 1200, 0.4, 1500, 0.44, 1800, 0.48, 2100, 0.51, 2350, 0.53, 2600, 0.52, 2800, 0.46, 3000, 0.38, 3250, 0.32, 3500, 0.29, 3700, 0.285],
  [0, 0.27, 80, 0.3, 240, 0.27, 400, 0.32, 560, 0.29, 740, 0.34, 920, 0.31, 1100, 0.28, 1300, 0.31, 1550, 0.29, 1800, 0.3, 2100, 0.285],
  [0, 0.255, 40, 0.22, 110, 0.25, 180, 0.21, 250, 0.24, 330, 0.2, 400, 0.23, 480, 0.19, 560, 0.22, 640, 0.18, 720, 0.21, 800, 0.17, 880, 0.2, 960, 0.23, 1040, 0.2, 1120, 0.24, 1210, 0.21, 1310, 0.25, 1420, 0.22, 1540, 0.26, 1680, 0.24, 1840, 0.27, 2000, 0.26, 2250, 0.28, 2500, 0.285],
  [0, 0.25, 120, 0.28, 280, 0.26, 440, 0.3, 620, 0.33, 800, 0.3, 980, 0.35, 1160, 0.32, 1380, 0.35, 1600, 0.32, 1850, 0.3, 2150, 0.29, 2500, 0.285],
  [0, 0.235, 80, 0.27, 150, 0.24, 220, 0.28, 300, 0.25, 370, 0.29, 450, 0.26, 530, 0.3, 610, 0.27, 690, 0.31, 770, 0.28, 850, 0.32, 930, 0.29, 1010, 0.33, 1090, 0.3, 1170, 0.34, 1260, 0.31, 1360, 0.35, 1470, 0.32, 1600, 0.3, 1750, 0.32, 1920, 0.3, 2100, 0.29, 2350, 0.285],
  [0, 0.23, 100, 0.27, 260, 0.25, 410, 0.31, 590, 0.28, 770, 0.33, 960, 0.36, 1180, 0.33, 1400, 0.38, 1450, 0.34, 1700, 0.36, 2000, 0.33, 2300, 0.31, 2700, 0.29, 3100, 0.285],
  [0, 0.22, 200, 0.25, 500, 0.28, 800, 0.3, 1100, 0.34, 1400, 0.36, 1700, 0.4, 2000, 0.42, 2300, 0.44, 2600, 0.45, 2970, 0.355, 3200, 0.31, 3450, 0.29, 3600, 0.285],
  [0, 0.21, 70, 0.25, 210, 0.23, 360, 0.29, 540, 0.27, 720, 0.32, 900, 0.3, 1100, 0.35, 1330, 0.37, 1560, 0.34, 1830, 0.32, 2150, 0.305, 2500, 0.29, 2850, 0.285],
  [0, 0.19, 130, 0.23, 270, 0.21, 430, 0.27, 600, 0.3, 790, 0.28, 970, 0.33, 1200, 0.35, 1420, 0.33, 1680, 0.35, 1950, 0.32, 2250, 0.3, 2600, 0.29, 2950, 0.285],
  [0, 0.185, 60, 0.15, 130, 0.18, 200, 0.14, 270, 0.17, 350, 0.13, 420, 0.16, 500, 0.2, 580, 0.17, 660, 0.21, 740, 0.18, 820, 0.22, 900, 0.19, 980, 0.23, 1060, 0.2, 1140, 0.24, 1230, 0.21, 1330, 0.25, 1440, 0.22, 1560, 0.26, 1700, 0.24, 1850, 0.27, 2050, 0.28, 2300, 0.285],
  [0, 0.17, 90, 0.2, 230, 0.22, 380, 0.2, 520, 0.26, 700, 0.28, 880, 0.26, 1060, 0.31, 1280, 0.33, 1500, 0.31, 1750, 0.33, 2050, 0.31, 2350, 0.295, 2700, 0.285],
  [0, 0.165, 50, 0.2, 120, 0.23, 190, 0.2, 260, 0.24, 340, 0.21, 410, 0.25, 490, 0.22, 570, 0.26, 650, 0.23, 730, 0.27, 810, 0.24, 890, 0.28, 970, 0.25, 1050, 0.29, 1130, 0.26, 1220, 0.3, 1320, 0.27, 1430, 0.31, 1550, 0.28, 1690, 0.3, 1850, 0.29, 2050, 0.285],
  [0, 0.15, 110, 0.19, 250, 0.17, 420, 0.22, 580, 0.25, 760, 0.23, 940, 0.28, 1120, 0.3, 1350, 0.28, 1600, 0.31, 1900, 0.3, 2200, 0.29, 2600, 0.285],
  [0, 0.13, 60, 0.16, 200, 0.15, 350, 0.2, 500, 0.22, 680, 0.2, 860, 0.25, 1050, 0.27, 1250, 0.26, 1500, 0.29, 1800, 0.3, 2100, 0.29, 2400, 0.285],
  [0, 0.125, 70, 0.1, 140, 0.13, 210, 0.09, 290, 0.12, 360, 0.15, 440, 0.12, 520, 0.16, 600, 0.13, 680, 0.17, 760, 0.14, 840, 0.18, 920, 0.15, 1000, 0.19, 1080, 0.16, 1160, 0.2, 1250, 0.17, 1350, 0.21, 1460, 0.19, 1580, 0.22, 1720, 0.24, 1880, 0.26, 2100, 0.27, 2400, 0.28, 2700, 0.285],
  [0, 0.11, 150, 0.14, 300, 0.13, 450, 0.18, 620, 0.2, 800, 0.19, 980, 0.23, 1180, 0.25, 1400, 0.24, 1650, 0.27, 1950, 0.29, 2300, 0.285],
  [0, 0.09, 80, 0.12, 220, 0.1, 380, 0.15, 540, 0.17, 720, 0.16, 900, 0.2, 1100, 0.22, 1300, 0.21, 1550, 0.25, 1850, 0.27, 2150, 0.28, 2500, 0.285],
  [0, 0.085, 40, 0.06, 110, 0.09, 180, 0.07, 250, 0.1, 330, 0.08, 400, 0.11, 480, 0.09, 560, 0.12, 640, 0.1, 720, 0.13, 800, 0.11, 880, 0.14, 960, 0.12, 1040, 0.15, 1120, 0.13, 1210, 0.16, 1310, 0.14, 1420, 0.17, 1540, 0.19, 1680, 0.21, 1840, 0.23, 2000, 0.25, 2250, 0.27, 2550, 0.28, 2850, 0.285],
  [0, 0.07, 120, 0.09, 260, 0.08, 400, 0.12, 560, 0.14, 760, 0.13, 950, 0.18, 1150, 0.2, 1400, 0.19, 1650, 0.23, 1950, 0.25, 2250, 0.27, 2550, 0.28, 2900, 0.285],
  [0, 0.05, 90, 0.07, 200, 0.06, 350, 0.09, 500, 0.11, 700, 0.13, 900, 0.16, 1100, 0.14, 1350, 0.17, 1600, 0.2, 1850, 0.22, 2150, 0.25, 2450, 0.27, 2800, 0.285],
  [0, 0.045, 80, 0.03, 150, 0.05, 220, 0.035, 300, 0.06, 370, 0.045, 450, 0.07, 530, 0.055, 610, 0.08, 690, 0.065, 770, 0.09, 850, 0.075, 930, 0.1, 1010, 0.09, 1090, 0.11, 1170, 0.1, 1260, 0.12, 1360, 0.13, 1470, 0.15, 1600, 0.17, 1750, 0.19, 1920, 0.21, 2100, 0.23, 2350, 0.26, 2650, 0.28, 2950, 0.285],
  [0, 0.03, 140, 0.05, 300, 0.045, 450, 0.08, 650, 0.1, 800, 0.12, 1000, 0.11, 1200, 0.15, 1450, 0.18, 1750, 0.21, 2050, 0.23, 2350, 0.26, 2650, 0.275, 3000, 0.285],
  [0, 0.02, 100, 0.015, 250, 0.04, 500, 0.06, 700, 0.07, 840, 0.09, 1000, 0.12, 1300, 0.14, 1600, 0.16, 1990, 0.14, 2100, 0.2, 2400, 0.24, 2700, 0.27, 3000, 0.285],
  [0, 0.005, 170, 0.03, 420, 0.04, 615, 0.1, 900, 0.12, 1150, 0.15, 1400, 0.17, 1700, 0.2, 2000, 0.22, 2300, 0.25, 2600, 0.27, 2850, 0.28, 3100, 0.285],
  [0, 0.008, 180, 0.01, 610, 0.01, 1458, 0.123, 1700, 0.14, 2000, 0.18, 2300, 0.24, 2600, 0.27, 2900, 0.285],
]

// the low-opinion agent that ends up in the upper cluster
const rightClimber: number[] = [0, 0.16, 200, 0.19, 450, 0.22, 700, 0.26, 950, 0.3, 1200, 0.35, 1400, 0.42, 1470, 0.48, 1600, 0.53, 1660, 0.55, 1720, 0.6, 1800, 0.615, 1900, 0.635, 2000, 0.64, 2100, 0.66, 2200, 0.67, 2350, 0.68, 2480, 0.69, 2600, 0.7, 2800, 0.71]

const STOPS: [number, number[]][] = [
  [0.0, [66, 92, 190]],
  [0.22, [72, 88, 186]],
  [0.32, [122, 58, 160]],
  [0.42, [200, 28, 62]],
  [0.55, [224, 30, 36]],
  [0.68, [214, 40, 34]],
  [0.77, [168, 118, 42]],
  [0.84, [130, 186, 56]],
  [1.0, [132, 190, 60]],
]

function colorFor(v: number) {
  for (let i = 1; i < STOPS.length; i++) {
    const [p1, c1] = STOPS[i]
    const [p0, c0] = STOPS[i - 1]
    if (v <= p1) {
      const t = (v - p0) / (p1 - p0)
      const c = c0.map((a, k) => Math.round(a + (c1[k] - a) * t))
      return `rgb(${c[0]},${c[1]},${c[2]})`
    }
  }
  return 'rgb(132,190,60)'
}

function toPoints(run: number[], endIter: number) {
  const pts: { x: number; y: number }[] = []
  for (let i = 0; i < run.length; i += 2) pts.push({ x: run[i], y: run[i + 1] })
  pts.push({ x: endIter, y: run[run.length - 1] })
  return pts
}

const FONT = 'DejaVu Sans, sans-serif'
const tickStyle = { fill: '#111', fontSize: 17.2, fontFamily: FONT }
const axisLineStyle = { stroke: '#111', strokeWidth: 1.3 }
const tickLineStyle = { stroke: '#111', strokeWidth: 1 }

function Panel({ runs, endIter, xTicks, xMax, lineType, width, margin }: {
  runs: number[][]; endIter: number; xTicks: number[]; xMax: number
  lineType: 'linear' | 'stepAfter'; width: number
  margin: { top: number; right: number; bottom: number; left: number }
}) {
  return (
    <LineChart width={width} height={664} margin={margin}>
      <XAxis type="number" dataKey="x" domain={[0, xMax]} ticks={xTicks} interval={0}
        allowDataOverflow height={30} tick={tickStyle} tickSize={-7} tickMargin={16}
        axisLine={axisLineStyle} tickLine={tickLineStyle} />
      <XAxis xAxisId="top" orientation="top" type="number" dataKey="x" domain={[0, xMax]} ticks={xTicks}
        interval={0} allowDataOverflow height={10} tick={false} tickSize={-7}
        axisLine={axisLineStyle} tickLine={tickLineStyle} />
      <YAxis type="number" domain={[0, 1]} ticks={yTicks} interval={0} allowDataOverflow width={60}
        tick={tickStyle} tickFormatter={(v: number) => v.toFixed(1)} tickSize={-7} tickMargin={12}
        axisLine={axisLineStyle} tickLine={tickLineStyle} />
      <YAxis yAxisId="right" orientation="right" type="number" domain={[0, 1]} ticks={yTicks} interval={0}
        allowDataOverflow width={1} tick={false} tickSize={-7}
        axisLine={axisLineStyle} tickLine={tickLineStyle} />
      {runs.map((run, i) => (
        <Line key={i} data={toPoints(run, endIter)} dataKey="y" type={lineType} dot={false}
          activeDot={false} stroke={colorFor(run[1])} strokeWidth={1.8} strokeOpacity={0.88}
          isAnimationActive={false} />
      ))}
    </LineChart>
  )
}

export default function App() {
  const leftRuns = [...leftGreenRuns, ...leftRedRuns, ...leftBlueRuns]
  // red/olive agents underneath, the green upper cluster over them, the blue lower cluster last
  const rightRuns = [...rightMidRuns, ...rightGreenRuns, ...rightLowRuns, rightClimber]
  return (
    <div style={{ position: 'absolute', left: 0, top: 0, width: 1288, height: 664, background: '#fff', overflow: 'hidden' }}>
      <div style={{ position: 'absolute', left: 640, top: 0 }}>
        <Panel runs={rightRuns} endIter={rightEndIter} xTicks={rightXTicks} xMax={5000} lineType="stepAfter"
          width={648} margin={{ top: 32, right: 25, bottom: 17, left: 3 }} />
      </div>
      <div style={{ position: 'absolute', left: 0, top: 0 }}>
        <Panel runs={leftRuns} endIter={leftEndIter} xTicks={leftXTicks} xMax={140} lineType="linear"
          width={660} margin={{ top: 32, right: 30, bottom: 14, left: 7 }} />
      </div>
      <svg width={1288} height={664} style={{ position: 'absolute', left: 0, top: 0, pointerEvents: 'none' }}>
        <g fontFamily={FONT} fill="#111">
          <text x={348} y={33} fontSize={20.6} textAnchor="middle">Epsilon = 0.32 Gamma = 0.0 Pop size = 500</text>
          <text x={982.5} y={33} fontSize={20.6} textAnchor="middle">Epsilon = 0.32 Gamma = 1.6 Pop size = 500</text>
          <text x={348} y={661} fontSize={17.2} textAnchor="middle">Iterations</text>
          <text x={982.5} y={661} fontSize={17.2} textAnchor="middle">Iterations</text>
          <text transform="translate(23,333) rotate(-90)" fontSize={17.2} textAnchor="middle">Opinion</text>
          <text transform="translate(660,333) rotate(-90)" fontSize={17.2} textAnchor="middle">Opinion</text>
        </g>
        <g fontFamily="Liberation Sans, Arial, sans-serif" fontWeight="bold" fill="#000">
          <text x={236} y={223} fontSize={29.7}>Without algorithmic bias</text>
          <text x={908} y={127} fontSize={29.8}>With algorithmic bias</text>
        </g>
      </svg>
    </div>
  )
}
